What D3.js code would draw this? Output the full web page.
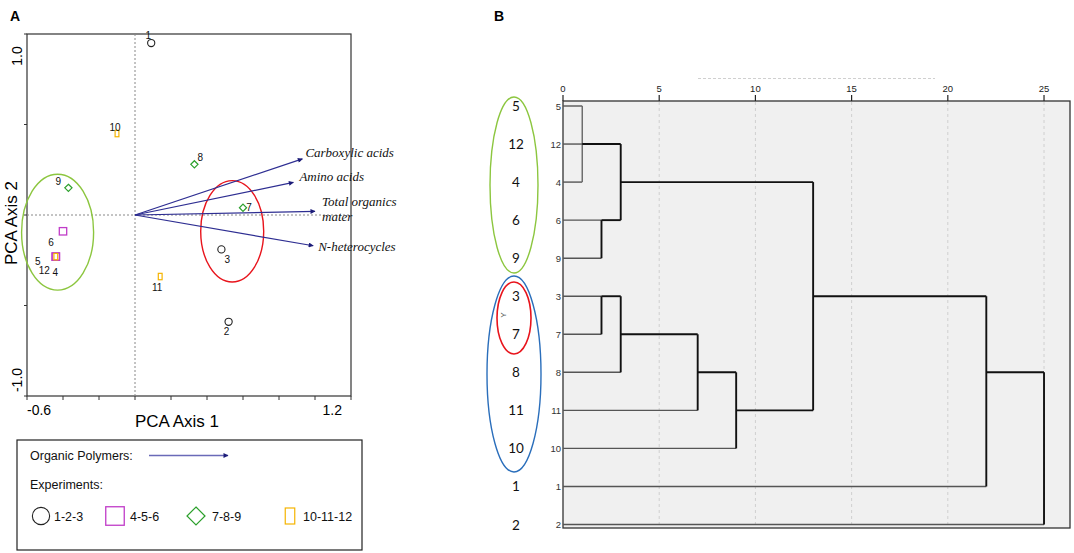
<!DOCTYPE html>
<head>
  <meta charset="utf-8">
  <title>PCA and dendrogram</title>
  <script src="https://d3js.org/d3.v7.min.js"></script>
  <style>
    body { margin: 0; background: #fff; }
    svg { font-family: "Liberation Sans", Arial, sans-serif; }
    .box { fill: none; stroke: #333; stroke-width: 1.2px; }
    .cross { stroke: #888; stroke-width: 1px; stroke-dasharray: 2,2; }
    .pt-label { font-size: 10px; fill: #111; text-anchor: middle; }
    .var-label { font-family: "Liberation Serif", "Times New Roman", serif; font-style: italic; font-size: 13px; fill: #111; }
    .leg { font-size: 12.5px; fill: #111; }
    .rowlab { font-family: Lato, "Open Sans", sans-serif; font-size: 13.5px; fill: #111; text-anchor: middle; }
    .rowtick { font-size: 9.5px; fill: #333; text-anchor: end; }
    .dtick { font-size: 9.5px; fill: #222; text-anchor: middle; }
    .grid { stroke: #cfcfcf; stroke-dasharray: 3,3; }
  </style>
</head>
<body>
<script>
// ---------- data ----------
// PCA scores of the 12 experiments
var experiments = ["1","2","3","4","5","6","7","8","9","10","11","12"];
var pcaX = [0.09, 0.52, 0.48, -0.44, -0.44, -0.40, 0.60, 0.33, -0.37, -0.10, 0.14, -0.44];
var pcaY = [0.95, -0.59, -0.19, -0.23, -0.23, -0.09, 0.04, 0.28, 0.15, 0.45, -0.34, -0.23];
var groupOf = ["circle","circle","circle","square","square","square","diamond","diamond","diamond","rect","rect","rect"];

// loadings of organic polymers
var polymers = [["Carboxylic acids"], ["Amino acids"], ["Total organics", "mater"], ["N-heterocycles"]];
var loadX = [0.93, 0.88, 1.00, 0.99];
var loadY = [0.31, 0.18, 0.02, -0.17];

var xTicksA = [-0.6, -0.4, -0.2, 0, 0.2, 0.4, 0.6, 0.8, 1.0, 1.2];
var yTicksA = [-1, -0.5, 0, 0.5, 1];

var legendGroups = ["1-2-3", "4-5-6", "7-8-9", "10-11-12"];
var legendShapes = ["circle", "square", "diamond", "rect"];

// dendrogram (rescaled distance)
var rowOrder = ["5","12","4","6","9","3","7","8","11","10","1","2"];
var merges = [
  ["5","4",1], ["m0","12",1], ["6","9",2], ["m1","m2",3],
  ["3","7",2], ["m4","8",3], ["m5","11",7], ["m6","10",9],
  ["m3","m7",13], ["m8","1",22], ["m9","2",25]
];
var distTicks = [0, 5, 10, 15, 20, 25];

// ---------- layout ----------
var W = 1074, H = 553;
var svg = d3.select("body").append("svg").attr("width", W).attr("height", H);

svg.append("text").attr("x", 10).attr("y", 21).style("font-weight", "bold").style("font-size", "14px").text("A");
svg.append("text").attr("x", 494).attr("y", 21).style("font-weight", "bold").style("font-size", "14px").text("B");

// ===== Panel A =====
var x = d3.scaleLinear().domain([-0.6, 1.2]).range([27, 351]);
var y = d3.scaleLinear().domain([-1, 1]).range([396, 34]);

var colors = { circle: "#222", square: "#c03cc8", diamond: "#2ca02c", rect: "#f5b400" };

var gA = svg.append("g");
gA.append("rect").attr("class", "box")
  .attr("x", x(-0.6)).attr("y", y(1)).attr("width", x(1.2) - x(-0.6)).attr("height", y(-1) - y(1));

gA.append("line").attr("class", "cross").attr("x1", x(0)).attr("x2", x(0)).attr("y1", y(1)).attr("y2", y(-1));
gA.append("line").attr("class", "cross").attr("x1", x(-0.6)).attr("x2", x(1.2)).attr("y1", y(0)).attr("y2", y(0));

gA.selectAll(".xt").data(xTicksA).enter().append("line")
  .attr("x1", function(d) { return x(d); }).attr("x2", function(d) { return x(d); })
  .attr("y1", y(-1)).attr("y2", y(-1) + 4).attr("stroke", "#333");
gA.selectAll(".yt").data(yTicksA).enter().append("line")
  .attr("x1", x(-0.6) - 3).attr("x2", x(-0.6))
  .attr("y1", function(d) { return y(d); }).attr("y2", function(d) { return y(d); }).attr("stroke", "#333");

gA.append("text").attr("x", x(-0.6)).attr("y", 415).style("font-size", "14px").text("-0.6");
gA.append("text").attr("x", x(1.2) - 9).attr("y", 415).attr("text-anchor", "end").style("font-size", "14px").text("1.2");
gA.append("text").attr("transform", "translate(22," + (y(1) + 22) + ") rotate(-90)")
  .attr("text-anchor", "middle").style("font-size", "14px").text("1.0");
gA.append("text").attr("transform", "translate(22," + (y(-1) - 16) + ") rotate(-90)")
  .attr("text-anchor", "middle").style("font-size", "14px").text("-1.0");

gA.append("text").attr("x", 177).attr("y", 427).attr("text-anchor", "middle").style("font-size", "17px").text("PCA Axis 1");
gA.append("text").attr("transform", "translate(17,223) rotate(-90)").attr("text-anchor", "middle")
  .style("font-size", "17px").text("PCA Axis 2");

// ellipses
function ell(cx, cy, rx, ry, col) {
  gA.append("ellipse").attr("cx", x(cx)).attr("cy", y(cy))
    .attr("rx", x(rx) - x(0)).attr("ry", y(0) - y(ry))
    .attr("fill", "none").attr("stroke", col).attr("stroke-width", 1.4);
}
ell(-0.43, -0.095, 0.20, 0.32, "#8cc63f");
ell(0.54, -0.09, 0.175, 0.28, "#e8141c");

// arrows
var defs = svg.append("defs");
defs.append("marker").attr("id", "ah").attr("viewBox", "0 0 10 10").attr("refX", 9).attr("refY", 5)
  .attr("markerWidth", 6).attr("markerHeight", 5).attr("orient", "auto").attr("markerUnits", "userSpaceOnUse")
  .append("path").attr("d", "M0,0 L10,5 L0,10 z").attr("fill", "#1c1c78");

var labOff = [[3, -2], [6, -1], [7, -5], [5, 5]];
polymers.forEach(function(p, i) {
  gA.append("line").attr("x1", x(0)).attr("y1", y(0)).attr("x2", x(loadX[i])).attr("y2", y(loadY[i]))
    .attr("stroke", "#2e2e92").attr("stroke-width", 1.2).attr("marker-end", "url(#ah)");
  p.forEach(function(line, j) {
    gA.append("text").attr("class", "var-label")
      .attr("x", x(loadX[i]) + labOff[i][0]).attr("y", y(loadY[i]) + labOff[i][1] + j * 15)
      .text(line);
  });
});

// symbols
function drawSymbol(g, shape, cx, cy, s) {
  var c = colors[shape];
  if (shape === "circle") {
    g.append("circle").attr("cx", cx).attr("cy", cy).attr("r", 3.6 * s)
      .attr("fill", "none").attr("stroke", c).attr("stroke-width", 1.1);
  } else if (shape === "square") {
    g.append("rect").attr("x", cx - 3.7 * s).attr("y", cy - 3.7 * s).attr("width", 7.4 * s).attr("height", 7.4 * s)
      .attr("fill", "none").attr("stroke", c).attr("stroke-width", 1.3);
  } else if (shape === "diamond") {
    var r = 3.6 * s;
    g.append("path").attr("d", "M" + cx + "," + (cy - r) + " L" + (cx + r) + "," + cy + " L" + cx + "," + (cy + r) + " L" + (cx - r) + "," + cy + " Z")
      .attr("fill", "none").attr("stroke", c).attr("stroke-width", 1.2);
  } else {
    g.append("rect").attr("x", cx - 1.9 * s).attr("y", cy - 3.2 * s).attr("width", 3.8 * s).attr("height", 6.4 * s)
      .attr("fill", "none").attr("stroke", c).attr("stroke-width", 1.2);
  }
}

var ptOff = { "1": [-3, -4], "2": [-2, 13], "3": [6, 14], "4": [-0.5, 19], "5": [-18, 8], "6": [-12, 15],
  "7": [6, 3], "8": [6, -3], "9": [-10, -3], "10": [-2, -3], "11": [-3, 14], "12": [-11.5, 17] };

experiments.forEach(function(e, i) {
  drawSymbol(gA, groupOf[i], x(pcaX[i]), y(pcaY[i]), 1);
});
experiments.forEach(function(e, i) {
  gA.append("text").attr("class", "pt-label")
    .attr("x", x(pcaX[i]) + ptOff[e][0]).attr("y", y(pcaY[i]) + ptOff[e][1]).text(e);
});

// legend
var gL = svg.append("g");
gL.append("rect").attr("x", 17).attr("y", 440).attr("width", 345).attr("height", 110)
  .attr("fill", "#fff").attr("stroke", "#222").attr("stroke-width", 1.2);
gL.append("text").attr("class", "leg").attr("x", 30).attr("y", 460).text("Organic Polymers:");
gL.append("line").attr("x1", 149).attr("x2", 228).attr("y1", 455.5).attr("y2", 455.5)
  .attr("stroke", "#6a6ab8").attr("stroke-width", 1.3).attr("marker-end", "url(#ah)");
gL.append("text").attr("class", "leg").attr("x", 30).attr("y", 489).text("Experiments:");
var legX = [41, 115, 196, 290];
var legTX = [54, 130, 212, 303];
legendGroups.forEach(function(g, i) {
  drawSymbol(gL, legendShapes[i], legX[i], 516, legendShapes[i] === "circle" ? 2.4 : 2.5);
  gL.append("text").attr("class", "leg").attr("x", legTX[i]).attr("y", 521).text(g);
});

// ===== Panel B =====
var xB = d3.scaleLinear().domain([0, 26.35]).range([563, 1070]);
var yB = d3.scalePoint().domain(rowOrder).range([106, 524.5]);
var gB = svg.append("g");

gB.append("rect").attr("x", xB(0)).attr("y", 101).attr("width", xB(26.35) - xB(0)).attr("height", 427)
  .attr("fill", "#f0f0f0").attr("stroke", "#333").attr("stroke-width", 1.3);
gB.append("line").attr("x1", 698).attr("x2", 935).attr("y1", 78.5).attr("y2", 78.5)
  .attr("stroke", "#d0d0d0").attr("stroke-dasharray", "3,2");

gB.selectAll(".grid").data(distTicks.slice(1)).enter().append("line").attr("class", "grid")
  .attr("x1", function(d) { return xB(d); }).attr("x2", function(d) { return xB(d); })
  .attr("y1", 102).attr("y2", 527);
gB.selectAll(".dt").data(distTicks).enter().append("line")
  .attr("x1", function(d) { return xB(d); }).attr("x2", function(d) { return xB(d); })
  .attr("y1", 95).attr("y2", 101).attr("stroke", "#222").attr("stroke-width", 1.2);
gB.selectAll(".dtick").data(distTicks).enter().append("text").attr("class", "dtick")
  .attr("x", function(d) { return xB(d); }).attr("y", 92).text(function(d) { return d; });

gB.selectAll(".rowtick").data(rowOrder).enter().append("text").attr("class", "rowtick")
  .attr("x", 561).attr("y", function(d) { return yB(d) + 3.5; }).text(function(d) { return d; });
gB.selectAll(".rowlab").data(rowOrder).enter().append("text").attr("class", "rowlab")
  .attr("x", 516).attr("y", function(d) { return yB(d) + 5; }).text(function(d) { return d; });

// dendrogram links
var nodes = {};
rowOrder.forEach(function(r, i) { nodes[r] = { pos: i, start: 0, leaf: true }; });
merges.forEach(function(m, i) {
  var a = nodes[m[0]], b = nodes[m[1]], d = m[2];
  var posY = function(n) { return yB(rowOrder[n.pos]); };
  [a, b].forEach(function(n) {
    gB.append("line").attr("x1", xB(n.start)).attr("x2", xB(d)).attr("y1", posY(n)).attr("y2", posY(n))
      .attr("stroke", n.leaf ? "#555" : "#111").attr("stroke-width", n.leaf ? 1.4 : 1.9);
  });
  gB.append("line").attr("x1", xB(d)).attr("x2", xB(d)).attr("y1", posY(a)).attr("y2", posY(b))
    .attr("stroke", d <= 1 ? "#666" : "#111").attr("stroke-width", d <= 1 ? 1.4 : 1.9);
  nodes["m" + i] = { pos: Math.floor((a.pos + b.pos) / 2), start: d, leaf: false };
});

// group ellipses on the left labels
gB.append("ellipse").attr("cx", 514).attr("cy", 185).attr("rx", 24).attr("ry", 88)
  .attr("fill", "none").attr("stroke", "#8cc63f").attr("stroke-width", 1.4);
gB.append("ellipse").attr("cx", 514).attr("cy", 374).attr("rx", 27).attr("ry", 98)
  .attr("fill", "none").attr("stroke", "#2a6ebb").attr("stroke-width", 1.4);
gB.append("ellipse").attr("cx", 514).attr("cy", 318).attr("rx", 17).attr("ry", 36)
  .attr("fill", "none").attr("stroke", "#e8141c").attr("stroke-width", 1.6);
gB.append("text").attr("transform", "translate(506,315) rotate(-90)").attr("text-anchor", "middle")
  .style("font-size", "8px").attr("fill", "#555").text("Y");
</script>
</body>
